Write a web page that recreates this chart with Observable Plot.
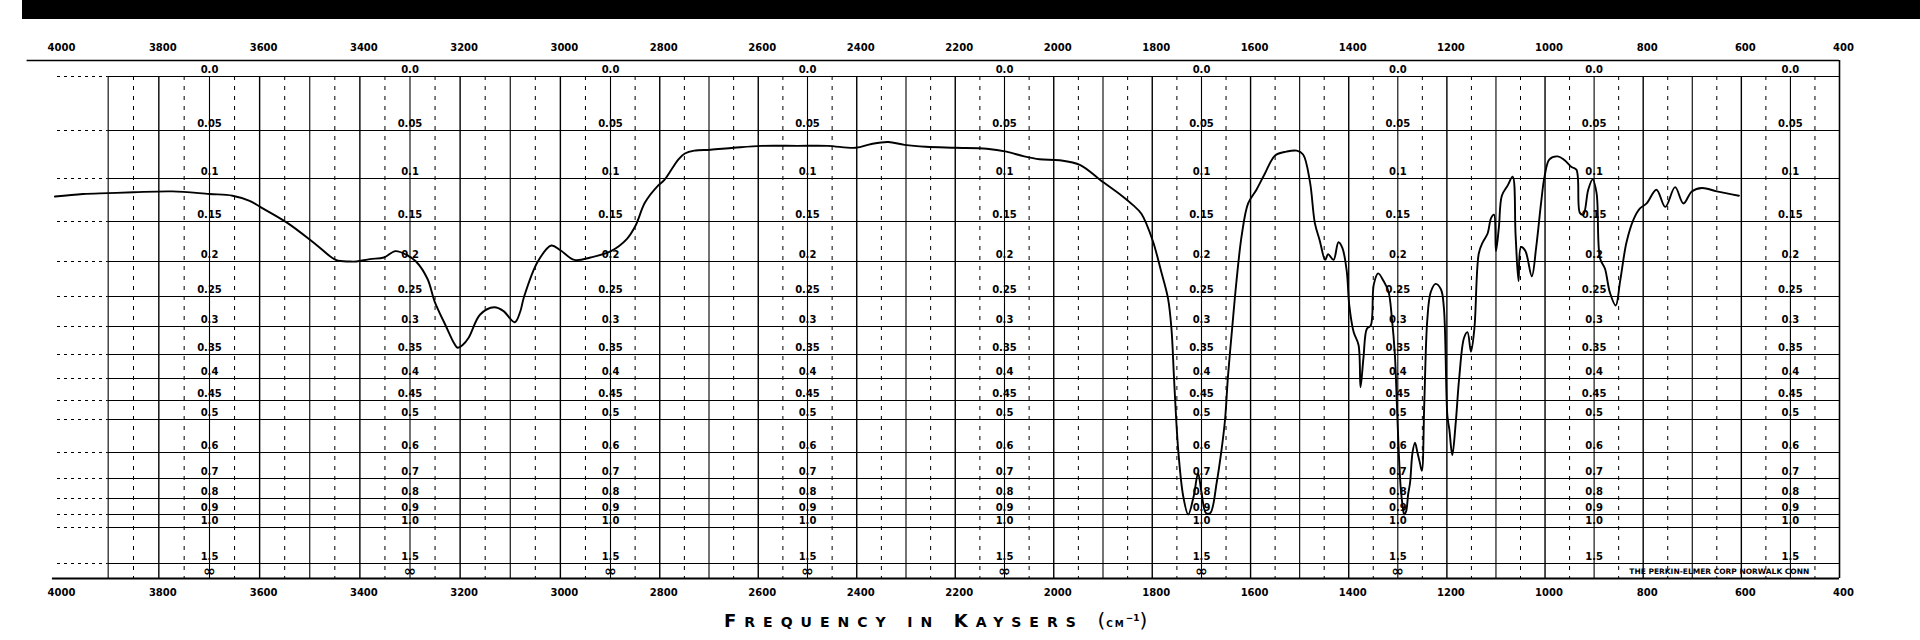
<!DOCTYPE html>
<html><head><meta charset="utf-8">
<script src="https://cdn.jsdelivr.net/npm/d3@7"></script>
<script src="https://cdn.jsdelivr.net/npm/@observablehq/plot@0.6"></script>
<style>
body{margin:0;background:#fff;width:1920px;height:640px;position:relative;overflow:hidden;font-family:"DejaVu Sans",sans-serif}
#chart{position:absolute;left:0;top:0}
#bar{position:absolute;left:22px;top:0;width:1898px;height:19px;background:#000}
#title{position:absolute;left:724px;top:606px;font-weight:bold;letter-spacing:8px;white-space:nowrap;color:#000;line-height:24px}
#title .big{font-size:18px}
#title .sm{font-size:14px}
#title .par{font-size:20px;font-weight:normal;letter-spacing:1px}
#title .cm{font-size:9px;letter-spacing:2px}
#title sup{font-size:9px;letter-spacing:0}
g[aria-label="wavenumber labels"] text{letter-spacing:2px}
g[aria-label="absorbance labels"] text{letter-spacing:1px}
g[aria-label="maker"] text{letter-spacing:3.6px}
</style></head>
<body>
<div id="chart"></div>
<div id="bar"></div>
<div id="title"><span class="big">F</span><span class="sm">REQUENCY</span>&nbsp;<span class="sm">IN</span>&nbsp;<span class="big">K</span><span class="sm">AYSERS</span>&nbsp;<span class="par">(</span><span class="cm">CM</span><sup>−1</sup><span class="par">)</span></div>
<script>
// Spectrum trace (wavenumber in cm-1, absorbance)
const wavenumber = [4005,3950,3900,3850,3773,3700,3654,3620,3599,3544,3489,3448,3420,3407,3380,3352,3329,3306,3288,3265,3251,3228,3212,3205,3195,3183,3160,3132,3114,3091,3080,3073,3045,3018,3000,2972,2940,2899,2867,2849,2830,2803,2791,2762,2749,2730,2697,2650,2593,2520,2459,2402,2370,2336,2303,2260,2200,2136,2096,2060,2029,1988,1946,1905,1862,1839,1822,1799,1782,1768,1761,1756,1751,1746,1737,1727,1716,1707,1700,1691,1682,1669,1659,1652,1646,1637,1629,1618,1605,1588,1571,1550,1527,1506,1493,1479,1469,1459,1448,1442,1431,1421,1413,1404,1399,1390,1380,1376,1370,1363,1355,1349,1340,1329,1319,1312,1306,1302,1298,1294,1290,1287,1283,1279,1275,1270,1265,1260,1255,1251,1246,1240,1233,1223,1212,1206,1199,1195,1189,1182,1175,1165,1158,1151,1144,1135,1127,1117,1110,1104,1100,1094,1088,1076,1066,1060,1054,1049,1040,1027,1018,1008,1001,991,974,960,946,936,929,922,912,903,895,888,878,868,856,847,834,820,807,793,773,755,735,718,701,680,650,605];
const absorbance = [0.121,0.118,0.117,0.116,0.115,0.118,0.12,0.126,0.133,0.152,0.178,0.198,0.2,0.2,0.197,0.195,0.187,0.192,0.2,0.225,0.258,0.3,0.33,0.338,0.333,0.32,0.28,0.268,0.274,0.293,0.275,0.252,0.2,0.18,0.186,0.198,0.195,0.187,0.172,0.155,0.128,0.108,0.102,0.08,0.074,0.071,0.07,0.068,0.066,0.066,0.066,0.068,0.064,0.062,0.065,0.067,0.068,0.069,0.072,0.077,0.08,0.081,0.086,0.102,0.12,0.131,0.141,0.174,0.214,0.253,0.304,0.395,0.51,0.62,0.79,0.9,0.79,0.68,0.77,0.89,0.89,0.72,0.59,0.5,0.395,0.298,0.23,0.167,0.129,0.113,0.095,0.076,0.072,0.071,0.075,0.104,0.152,0.174,0.198,0.191,0.198,0.176,0.183,0.214,0.264,0.31,0.333,0.42,0.357,0.304,0.298,0.233,0.217,0.228,0.243,0.287,0.35,0.455,0.6,0.75,0.85,0.9,0.88,0.78,0.72,0.6,0.57,0.6,0.64,0.67,0.455,0.29,0.244,0.232,0.24,0.27,0.49,0.53,0.61,0.51,0.4,0.32,0.31,0.345,0.304,0.19,0.176,0.165,0.146,0.142,0.187,0.157,0.12,0.108,0.098,0.167,0.228,0.182,0.187,0.221,0.182,0.128,0.098,0.08,0.077,0.081,0.088,0.091,0.14,0.142,0.113,0.101,0.117,0.196,0.21,0.244,0.265,0.228,0.176,0.148,0.135,0.129,0.113,0.133,0.11,0.129,0.115,0.111,0.115,0.12];

// Axis / grid values
const freqTicks = [4000,3800,3600,3400,3200,3000,2800,2600,2400,2200,2000,1800,1600,1400,1200,1000,800,600,400];
const labelColumns = [3700,3300,2900,2500,2100,1700,1300,900,500];
const absTicks = [0,0.05,0.1,0.15,0.2,0.25,0.3,0.35,0.4,0.45,0.5,0.6,0.7,0.8,0.9,1.0,1.5,3];
const absTickLabels = ["0.0","0.05","0.1","0.15","0.2","0.25","0.3","0.35","0.4","0.45","0.5","0.6","0.7","0.8","0.9","1.0","1.5","∞"];
const chartTop = -0.03;       // upper border of the chart paper
const infinityLevel = 3;      // stands for the ∞ line
const maker = "THE PERKIN-ELMER CORP NORWALK CONN";
const makerBoxColumns = [900, 500]; // columns whose ∞ label is hidden by the maker box

const spectrum = wavenumber.map((w, i) => ({w, a: absorbance[i]}));
const gridW = d3.range(3900, 400, -50);
const solidGrid = gridW.filter(w => w % 100 === 0);
const dashedGrid = gridW.filter(w => w % 100 !== 0);
const labelCells = labelColumns
  .flatMap(w => absTicks.map((a, i) => ({w, a, label: absTickLabels[i]})))
  .filter(d => !(d.label === "∞" && makerBoxColumns.includes(d.w)));

const chart = Plot.plot({
  width: 1920,
  height: 605,
  margin: 0,
  style: {background: "transparent", fontFamily: "DejaVu Sans, sans-serif", color: "#000"},
  x: {type: "linear", domain: [400, 1700, 2900, 3700, 4000], range: [1839, 1201, 610, 209, 57], axis: null},
  y: {type: "linear",
      domain: [-0.03, 0, 0.05, 0.1, 0.15, 0.2, 0.25, 0.3, 0.35, 0.4, 0.45, 0.5, 0.6, 0.7, 0.8, 0.9, 1.0, 1.5, 3],
      range:  [60, 76, 130, 178, 221, 261, 296, 326, 354, 378, 400, 419, 452, 478, 498, 514, 527, 563, 578],
      axis: null},
  marks: [
    Plot.ruleX(dashedGrid, {x: d => d, y1: 0, y2: infinityLevel, stroke: "#000", strokeWidth: 1, strokeDasharray: "4,6"}),
    Plot.ruleX(solidGrid, {x: d => d, y1: 0, y2: infinityLevel, stroke: "#000", strokeWidth: d => d % 200 === 0 ? 1.4 : 1.1}),
    Plot.ruleY(absTicks, {y: d => d, x1: 4000, x2: 3900, stroke: "#000", strokeWidth: 1, strokeDasharray: "3,4"}),
    Plot.ruleY(absTicks, {y: d => d, x1: 3900, x2: 400, stroke: "#000", strokeWidth: 1.2}),
    Plot.ruleY([chartTop], {y: d => d, x1: 4060, x2: 400, stroke: "#000", strokeWidth: 1.3}),
    Plot.ruleY([infinityLevel], {y: d => d, x1: 4010, x2: 400, stroke: "#000", strokeWidth: 2}),
    Plot.ruleX([400], {x: d => d, y1: chartTop, y2: infinityLevel, stroke: "#000", strokeWidth: 1.6}),
    Plot.text(labelCells, {x: "w", y: "a", text: "label", dy: -7, fontSize: d => d.label === "∞" ? 15 : 10, fontWeight: "bold", fill: "#000", ariaLabel: "absorbance labels"}),
    Plot.text(freqTicks, {x: d => d, y: d => chartTop, dy: -13, dx: 4, text: d => String(d), fontSize: 10, fontWeight: "bold", fill: "#000", ariaLabel: "wavenumber labels"}),
    Plot.text(freqTicks, {x: d => d, y: d => infinityLevel, dy: 14, dx: 4, text: d => String(d), fontSize: 10, fontWeight: "bold", fill: "#000", ariaLabel: "wavenumber labels"}),
    Plot.text([maker], {x: d => 645, y: d => infinityLevel, dy: -7, text: d => d, fontSize: 7.5, fontWeight: "bold", fill: "#000", ariaLabel: "maker"}),
    Plot.line(spectrum, {x: "w", y: "a", stroke: "#000", strokeWidth: 1.9, curve: "catmull-rom"})
  ]
});
document.getElementById("chart").appendChild(chart);
</script>
</body></html>
